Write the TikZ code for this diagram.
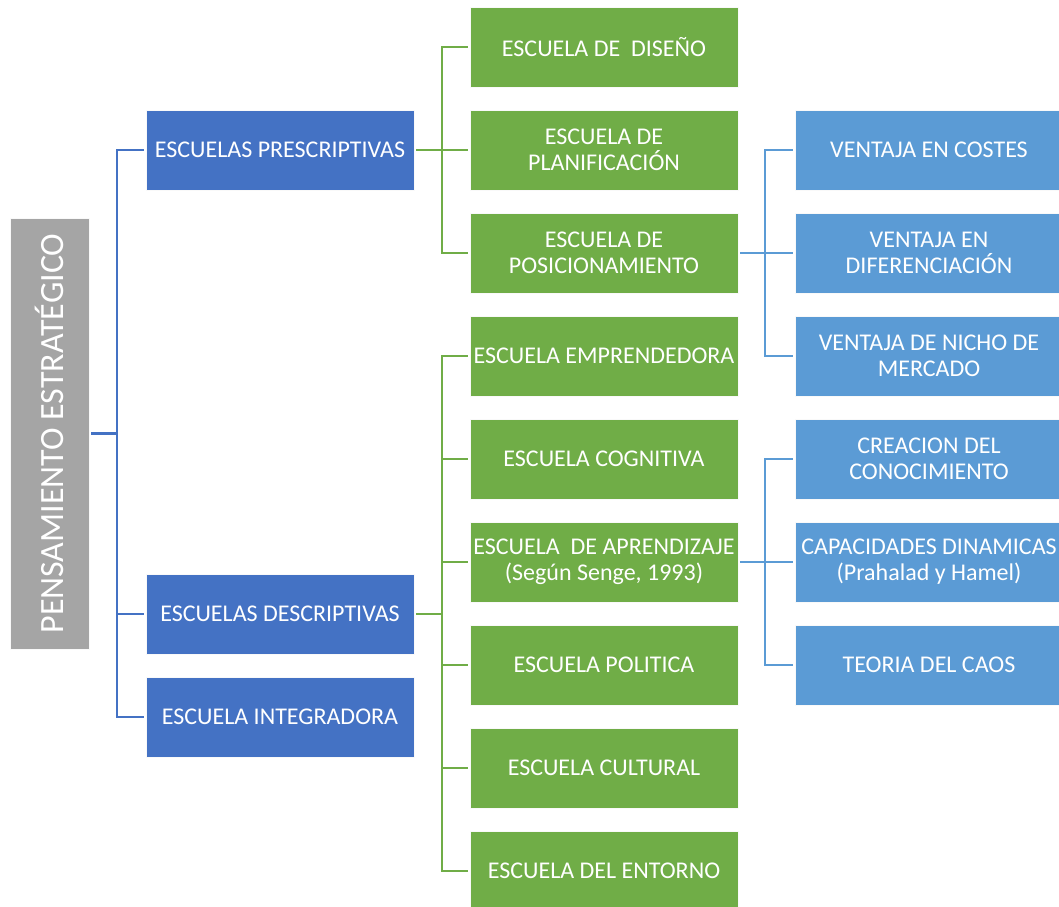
\documentclass[tikz,border=0pt]{standalone}
\usepackage{fontspec}
\setmainfont{Carlito}
\definecolor{cdark}{HTML}{4472C4}
\definecolor{cgreen}{HTML}{70AD47}
\definecolor{clight}{HTML}{5B9BD5}
\definecolor{cgray}{HTML}{A5A5A5}
\begin{document}
\begin{tikzpicture}[x=1pt,y=-1pt,
  box/.style={rectangle,draw=white!75!black!10,line width=1pt,text=white,
    minimum width=268pt,minimum height=80pt,inner sep=0pt,outer sep=2pt,
    align=center,font=\fontsize{24}{26}\selectfont},
  darkbox/.style={box,fill=cdark},
  greenbox/.style={box,fill=cgreen},
  lightbox/.style={box,fill=clight},
  rootbox/.style={box,fill=cgray,minimum width=431pt,minimum height=79pt,
    rotate=90,font=\fontsize{34}{36}\selectfont},
  link/.style={line width=2.6pt,line join=miter},
  darklink/.style={link,draw=cdark},
  greenlink/.style={link,draw=cgreen},
  lightlink/.style={link,draw=clight}]
\useasboundingbox (0,0) rectangle (1059,906);
\begin{scope}
\clip (0,0) rectangle (1059,906);

% root
\node[rootbox] (root) at (49.5,433.5) {PENSAMIENTO ESTRATÉGICO};

% first level
\node[darkbox] (pre) at (280,150) {ESCUELAS PRESCRIPTIVAS};
\node[darkbox] (des) at (280,614) {ESCUELAS DESCRIPTIVAS};
\node[darkbox] (int) at (280,717) {ESCUELA INTEGRADORA};

% schools
\node[greenbox] (g1) at (604,47)  {ESCUELA DE~ DISEÑO};
\node[greenbox] (g2) at (604,150) {ESCUELA DE\\PLANIFICACIÓN};
\node[greenbox] (g3) at (604,253) {ESCUELA DE\\POSICIONAMIENTO};
\node[greenbox] (g4) at (604,356) {ESCUELA EMPRENDEDORA};
\node[greenbox] (g5) at (604,459) {ESCUELA COGNITIVA};
\node[greenbox] (g6) at (604,562) {ESCUELA~ DE APRENDIZAJE\\(Según Senge, 1993)};
\node[greenbox] (g7) at (604,665) {ESCUELA POLITICA};
\node[greenbox] (g8) at (604,768) {ESCUELA CULTURAL};
\node[greenbox] (g9) at (604,871) {ESCUELA DEL ENTORNO};

% third level
\node[lightbox] (v1) at (929,150) {VENTAJA EN COSTES};
\node[lightbox] (v2) at (929,253) {VENTAJA EN\\DIFERENCIACIÓN};
\node[lightbox] (v3) at (929,356) {VENTAJA DE NICHO DE\\MERCADO};
\node[lightbox] (c1) at (929,459) {CREACION DEL\\CONOCIMIENTO};
\node[lightbox] (c2) at (929,562) {CAPACIDADES DINAMICAS\\(Prahalad y Hamel)};
\node[lightbox] (c3) at (929,665) {TEORIA DEL CAOS};

% connectors
\foreach \c in {pre,des,int}
  \draw[darklink] (root.south) -- ++(26,0) |- (\c.west);
\foreach \c in {g1,g2,g3}
  \draw[greenlink] (pre.east) -- ++(26,0) |- (\c.west);
\foreach \c in {g4,g5,g6,g7,g8,g9}
  \draw[greenlink] (des.east) -- ++(26,0) |- (\c.west);
\foreach \c in {v1,v2,v3}
  \draw[lightlink] (g3.east) -- ++(25,0) |- (\c.west);
\foreach \c in {c1,c2,c3}
  \draw[lightlink] (g6.east) -- ++(25,0) |- (\c.west);
\end{scope}
\end{tikzpicture}
\end{document}
